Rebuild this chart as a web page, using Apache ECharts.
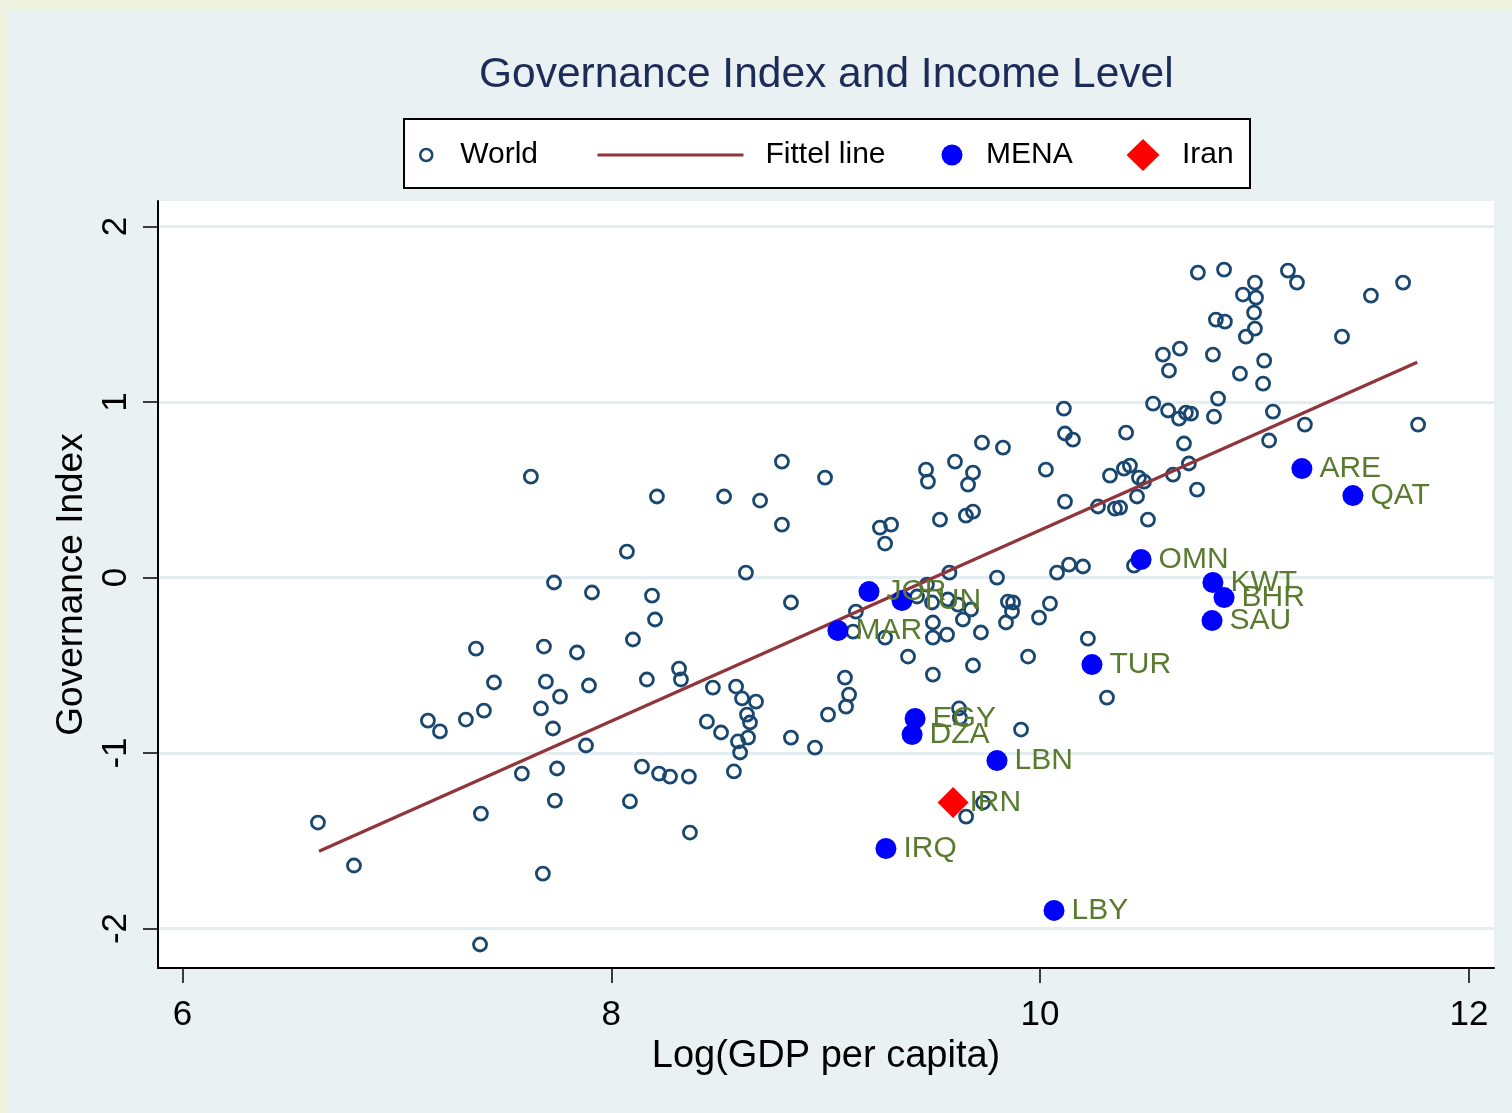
<!DOCTYPE html>
<html>
<head>
<meta charset="utf-8">
<script src="https://cdn.jsdelivr.net/npm/echarts@6/dist/echarts.min.js"></script>
<style>
html,body{margin:0;padding:0;background:#edf2df;}
#c{width:1512px;height:1113px;}
</style>
</head>
<body>
<div id="c"></div>
<script>
// ---- data ----
const xTicks = [6, 8, 10, 12];
const yTicks = [-2, -1, 0, 1, 2];

const worldGdp = [
  6.632, 6.800, 7.145, 7.201, 7.322, 7.369, 7.406, 7.453, 7.392, 7.388,
  7.583, 7.625, 7.672, 7.686, 7.695, 7.733, 7.728, 7.747, 7.737, 7.761,
  7.681, 7.840, 7.882, 7.896, 7.910, 8.073, 8.087, 8.101, 8.143, 8.166,
  8.190, 8.204, 8.213, 8.223, 8.274, 8.316, 8.325, 8.362, 8.367, 8.474,
  8.446, 8.512, 8.526, 8.582, 8.572, 8.591, 8.601, 8.610, 8.628, 8.633,
  8.638, 8.647, 8.675, 8.694, 8.796, 8.796, 8.838, 8.838, 8.950, 8.997,
  9.011, 9.095, 9.090, 9.109, 9.141, 9.128, 9.253, 9.305, 9.277, 9.277,
  9.384, 9.468, 9.477, 9.472, 9.500, 9.500, 9.500, 9.533, 9.566, 9.577,
  9.603, 9.426, 9.496, 9.570, 9.617, 9.678, 9.640, 9.622, 9.626, 9.654,
  9.664, 9.687, 9.687, 9.687, 9.724, 9.729, 9.799, 9.827, 9.850, 9.874,
  9.869, 9.841, 9.911, 9.944, 9.995, 10.027, 10.046, 10.079, 10.111, 10.116,
  10.116, 10.153, 10.135, 10.200, 10.223, 10.270, 10.312, 10.326, 10.349, 10.373,
  10.391, 10.401, 10.419, 10.438, 10.452, 10.461, 10.485, 10.503, 10.527, 10.573,
  10.597, 10.601, 10.620, 10.652, 10.648, 10.671, 10.680, 10.704, 10.694, 10.736,
  10.732, 10.806, 10.811, 10.820, 10.830, 10.858, 10.862, 10.932, 10.946, 10.960,
  10.998, 11.002, 11.007, 11.002, 11.040, 11.045, 11.068, 11.086, 11.156, 11.198,
  11.235, 11.408, 11.543, 11.693, 11.763, 9.734, 9.655
];
const worldGov = [
  -1.396, -1.641, -0.815, -0.877, -0.809, -0.405, -0.758, -0.598, -1.345, -2.091,
  -1.117, 0.575, -0.746, -0.393, -0.593, -0.028, -0.860, -1.088, -1.271, -0.678,
  -1.687, -0.427, -0.957, -0.615, -0.085, 0.148, -1.276, -0.353, -1.077, -0.581,
  -0.103, -0.239, 0.462, -1.117, -1.134, -0.519, -0.581, -1.134, -1.453, -0.627,
  -0.821, -0.883, 0.462, -0.621, -1.105, -0.934, -0.997, -0.689, 0.028, -0.781,
  -0.912, -0.826, -0.707, 0.439, 0.661, 0.302, -0.142, -0.912, -0.969, 0.570,
  -0.781, -0.735, -0.570, -0.667, -0.194, -0.308, 0.285, 0.302, 0.194, -0.342,
  -0.450, 0.615, 0.547, -0.040, -0.553, -0.256, -0.342, 0.330, -0.325, 0.028,
  0.661, -0.108, -0.142, -0.125, -0.154, -0.182, -0.239, -0.746, -0.798, 0.353,
  0.530, 0.376, 0.598, -0.501, -0.313, 0.769, 0.000, 0.741, -0.137, -0.142,
  -0.194, -0.256, -0.866, -0.450, -0.228, 0.615, -0.148, 0.028, 0.963, 0.433,
  0.821, 0.786, 0.074, 0.063, -0.348, 0.405, -0.684, 0.581, 0.393, 0.399,
  0.621, 0.826, 0.638, 0.068, 0.462, 0.570, 0.547, 0.330, 0.991, 1.271,
  0.952, 1.179, 0.587, 1.305, 0.906, 0.764, 0.940, 0.934, 0.650, 1.738,
  0.501, 1.271, 0.917, 1.470, 1.020, 1.755, 1.459, 1.162, 1.613, 1.373,
  1.510, 1.681, 1.595, 1.419, 1.105, 1.236, 0.781, 0.946, 1.749, 1.681,
  0.872, 1.373, 1.607, 1.681, 0.872, -1.282, -1.362
];

const menaCodes = ['ARE', 'QAT', 'OMN', 'KWT', 'BHR', 'SAU', 'TUR', 'JOR', 'TUN', 'MAR', 'EGY', 'DZA', 'LBN', 'IRQ', 'LBY'];
const menaGdp   = [11.221, 11.459, 10.471, 10.806, 10.858, 10.802, 10.242, 9.202, 9.356, 9.057, 9.417, 9.403, 9.799, 9.281, 10.065];
const menaGov   = [0.621, 0.467, 0.103, -0.028, -0.114, -0.245, -0.496, -0.080, -0.131, -0.302, -0.803, -0.895, -1.043, -1.544, -1.897];

const iranCodes = ['IRN'];
const iranGdp   = [9.594];
const iranGov   = [-1.282];

const fitGdp = [6.637, 11.759];
const fitGov = [-1.560, 1.227];

// ---- chart ----
const FONT = "'Liberation Sans', Arial, Helvetica, sans-serif";
const labelColor = '#5a7a30';

const chart = echarts.init(document.getElementById('c'), null, {renderer: 'canvas'});

function legendText(padLeft, padTop) {
  return {fontSize: 30, color: '#000', fontFamily: FONT, lineHeight: 30, padding: [padTop || 0, 0, 0, padLeft]};
}

chart.setOption({
  animation: false,
  backgroundColor: '#edf2df',
  textStyle: {fontFamily: FONT},
  graphic: [
    {type: 'rect', left: 7, top: 9, z: -10, silent: true,
     shape: {width: 1505, height: 1104}, style: {fill: '#eaf1f3'}},
    {type: 'rect', left: 403, top: 118, z: 1, silent: true,
     shape: {width: 846, height: 69}, style: {fill: '#ffffff', stroke: '#000', lineWidth: 2}}
  ],
  title: {
    text: 'Governance Index and Income Level',
    left: 479, top: 54, padding: 0,
    textStyle: {fontSize: 42.5, fontWeight: 'normal', color: '#1c2b57', fontFamily: FONT}
  },
  legend: [
    {data: [{name: 'World', icon: 'circle', itemStyle: {color: '#ffffff', borderColor: '#1a476f', borderWidth: 2.5, opacity: 1}}],
     left: 419, top: 140, itemWidth: 12, itemHeight: 12, padding: 0, selectedMode: false, textStyle: legendText(23)},
    {data: [{name: 'Fittel line', icon: 'rect', itemStyle: {color: '#90353b', opacity: 1}}],
     left: 597.5, top: 140, itemWidth: 146, itemHeight: 3, padding: 0, selectedMode: false, textStyle: legendText(17)},
    {data: [{name: 'MENA', icon: 'circle', itemStyle: {color: '#0000ff', opacity: 1}}],
     left: 941.5, top: 140, itemWidth: 21, itemHeight: 21, padding: 0, selectedMode: false, textStyle: legendText(18.5)},
    {data: [{name: 'Iran', icon: 'diamond', itemStyle: {color: '#ff0000', opacity: 1}}],
     left: 1126.5, top: 137, itemWidth: 33, itemHeight: 32, padding: 0, selectedMode: false, textStyle: legendText(17.5, 6)}
  ],
  grid: {left: 158, right: 18, top: 201, bottom: 145, show: true, backgroundColor: '#ffffff', borderWidth: 0, containLabel: false},
  xAxis: {
    type: 'value', min: 5.886, max: 12.117,
    axisLine: {show: true, onZero: false, lineStyle: {color: '#000', width: 2}},
    axisTick: {show: true, customValues: xTicks, length: 15, lineStyle: {color: '#000', width: 1.5}},
    axisLabel: {customValues: xTicks, fontSize: 35, color: '#000', margin: 30, fontFamily: FONT},
    splitLine: {show: false},
    name: 'Log(GDP per capita)', nameLocation: 'middle', nameGap: 63,
    nameTextStyle: {fontSize: 38, color: '#000', fontFamily: FONT}
  },
  yAxis: {
    type: 'value', min: -2.225, max: 2.146,
    axisLine: {show: true, onZero: false, lineStyle: {color: '#000', width: 2}},
    axisTick: {show: true, customValues: yTicks, length: 15, lineStyle: {color: '#000', width: 1.5}},
    axisLabel: {customValues: yTicks, rotate: 90, fontSize: 35, color: '#000', margin: 24, fontFamily: FONT},
    splitLine: {show: true, lineStyle: {color: '#e4edf0', width: 3}},
    name: 'Governance Index', nameLocation: 'middle', nameRotate: 90, nameGap: 68,
    nameTextStyle: {fontSize: 37, color: '#000', fontFamily: FONT}
  },
  series: [
    {
      name: 'World', type: 'scatter', z: 2,
      data: worldGdp.map((x, i) => [x, worldGov[i]]),
      symbol: 'circle', symbolSize: 13,
      itemStyle: {color: 'rgba(255,255,255,0)', borderColor: '#1a476f', borderWidth: 2.8, opacity: 1},
      emphasis: {disabled: true}
    },
    {
      name: 'Fittel line', type: 'line', z: 3,
      data: fitGdp.map((x, i) => [x, fitGov[i]]),
      symbol: 'none', showSymbol: false,
      lineStyle: {color: '#90353b', width: 3.2, opacity: 1},
      itemStyle: {color: '#90353b'},
      emphasis: {disabled: true}
    },
    {
      name: 'MENA', type: 'scatter', z: 4,
      data: menaGdp.map((x, i) => ({name: menaCodes[i], value: [x, menaGov[i]]})),
      symbol: 'circle', symbolSize: 21,
      itemStyle: {color: '#0000ff', opacity: 1},
      label: {show: true, position: 'right', distance: 7, formatter: '{b}', fontSize: 30, color: labelColor, fontFamily: FONT, opacity: 1},
      emphasis: {disabled: true}
    },
    {
      name: 'Iran', type: 'scatter', z: 5,
      data: iranGdp.map((x, i) => ({name: iranCodes[i], value: [x, iranGov[i]]})),
      symbol: 'diamond', symbolSize: 31,
      itemStyle: {color: '#ff0000', opacity: 1},
      label: {show: true, position: 'right', distance: 1, formatter: '{b}', fontSize: 30, color: labelColor, fontFamily: FONT, opacity: 1},
      emphasis: {disabled: true}
    }
  ]
});
</script>
</body>
</html>
